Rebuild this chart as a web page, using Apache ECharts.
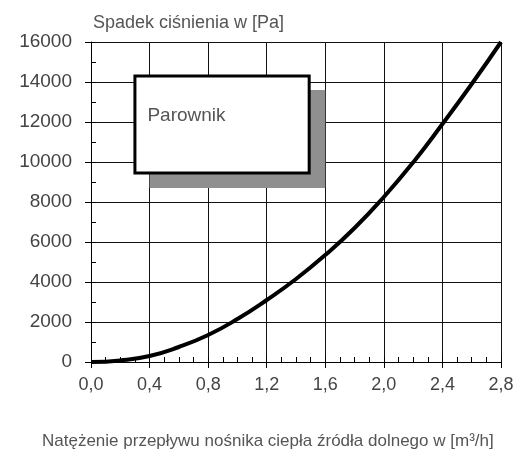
<!DOCTYPE html>
<html>
<head>
<meta charset="utf-8">
<script src="https://cdn.jsdelivr.net/npm/echarts@6/dist/echarts.min.js"></script>
<style>html,body{margin:0;padding:0;background:#fff}#c{width:523px;height:450px}</style>
</head>
<body>
<div id="c"></div>
<script>
var flow = [0.0, 0.2, 0.4, 0.6, 0.8, 1.0, 1.2, 1.4, 1.6, 1.8, 2.0, 2.2, 2.4, 2.6, 2.8];
var pressure = [0, 80, 300, 750, 1350, 2150, 3100, 4150, 5350, 6700, 8250, 9980, 11900, 13900, 16000];
var yTitle = 'Spadek ciśnienia w [Pa]';
var xTitle = 'Natężenie przepływu nośnika ciepła źródła dolnego w [m³/h]';
var boxLabel = 'Parownik';
var boxX = [0.3, 1.49];
var boxY = [9450, 14300];
var shadowX = [0.4, 1.6];
var shadowY = [8700, 13600];

var font = 'Liberation Sans';
var chart = echarts.init(document.getElementById('c'));
chart.setOption({
  animation: false,
  textStyle: {fontFamily: font},
  title: [
    {text: yTitle, left: 88, top: 9, textStyle: {fontSize: 18, fontWeight: 'normal', color: '#555', fontFamily: font}},
    {text: xTitle, left: 37, top: 428, textStyle: {fontSize: 17, fontWeight: 'normal', color: '#555', fontFamily: font}}
  ],
  grid: {left: 91, right: 22, top: 42, bottom: 88},
  xAxis: [
    {type: 'value', min: 0, max: 2.8, interval: 0.4,
     axisLine: {show: true, lineStyle: {color: '#000', width: 1}},
     axisTick: {show: true, length: 6, lineStyle: {color: '#000'}},
     axisLabel: {fontSize: 18, color: '#444', margin: 14, formatter: function(v){return v.toFixed(1).replace('.', ',');}},
     splitLine: {show: true, lineStyle: {color: '#111', width: 1}}},
    {type: 'value', min: 0, max: 2.8, interval: 0.1, position: 'bottom',
     axisLine: {show: false}, axisLabel: {show: false}, splitLine: {show: false},
     axisTick: {show: true, inside: true, length: 5, lineStyle: {color: '#000'}}}
  ],
  yAxis: [
    {type: 'value', min: 0, max: 16000, interval: 2000,
     axisLine: {show: true, lineStyle: {color: '#000', width: 1}},
     axisTick: {show: true, length: 6, lineStyle: {color: '#000'}},
     axisLabel: {fontSize: 19, color: '#444', margin: 19, formatter: function(v){return String(v);}},
     splitLine: {show: true, lineStyle: {color: '#111', width: 1}}},
    {type: 'value', min: 0, max: 16000, interval: 1000, position: 'left',
     axisLine: {show: false}, axisLabel: {show: false}, splitLine: {show: false},
     axisTick: {show: true, inside: true, length: 5, lineStyle: {color: '#000'}}}
  ],
  series: [
    {type: 'line', data: [], z: 3,
     markArea: {silent: true, itemStyle: {color: '#8f8f8f', borderWidth: 0},
       data: [[{xAxis: shadowX[0], yAxis: shadowY[0]}, {xAxis: shadowX[1], yAxis: shadowY[1]}]]}},
    {type: 'line', data: [], z: 4,
     markArea: {silent: true, itemStyle: {color: '#fff', borderColor: '#000', borderWidth: 3},
       label: {show: true, position: [14, 32], color: '#555', fontSize: 19, fontFamily: font},
       data: [[{name: boxLabel, xAxis: boxX[0], yAxis: boxY[0]}, {xAxis: boxX[1], yAxis: boxY[1]}]]}},
    {type: 'line', z: 5, smooth: true, showSymbol: false,
     lineStyle: {color: '#000', width: 4},
     data: flow.map(function(f, i){return [f, pressure[i]];})}
  ]
});
</script>
</body>
</html>
